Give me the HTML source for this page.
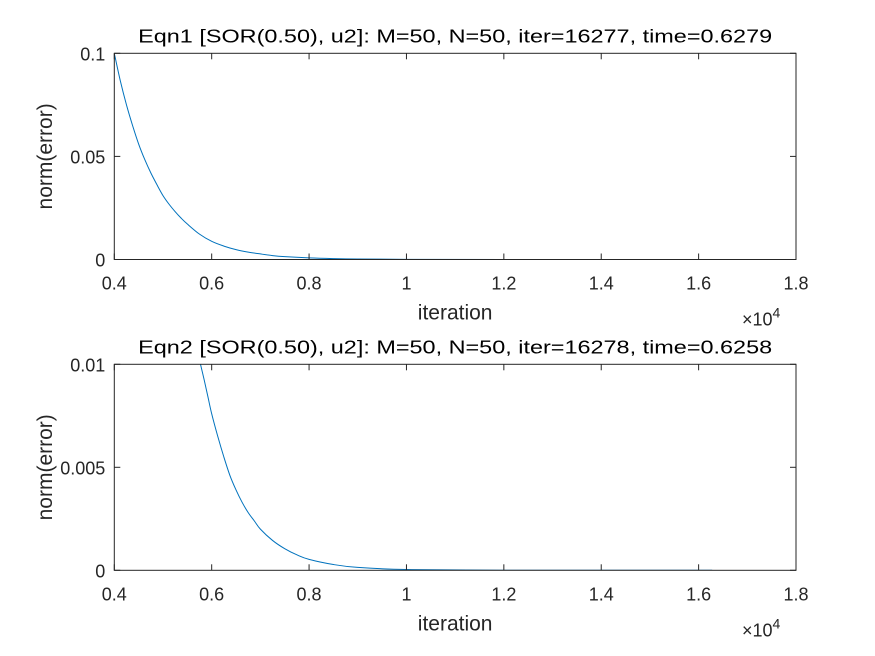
<!DOCTYPE html>
<html><head><meta charset="utf-8"><style>
html,body{margin:0;padding:0;background:#fff;}
svg{display:block;font-family:"Liberation Sans",Arial,sans-serif;}
</style></head><body>
<svg id="fig" width="875" height="656" viewBox="0 0 875 656"></svg>
<script>
const xTicks = [0.4,0.6,0.8,1,1.2,1.4,1.6,1.8];
const y1Ticks = [0,0.05,0.1];
const y1TickLabels = ["0","0.05","0.1"];
const y2Ticks = [0,0.005,0.01];
const y2TickLabels = ["0","0.005","0.01"];
const iter1 = [4000,4125,4250,4375,4500,4625,4750,4875,5000,5125,5250,5375,5500,5750,6000,6250,6500,6750,7000,7250,7500,8000,8500,9000,10000,12000,16277];
const err1 = [0.1,0.0865,0.075,0.065,0.056,0.0485,0.042,0.0363,0.031,0.0268,0.0232,0.020,0.0172,0.0123,0.0088,0.0065,0.0048,0.0036,0.0027,0.0019,0.0014,0.0008,0.00045,0.00025,0.00008,0.000008,0];
const iter2 = [5770,5850,5925,6000,6125,6250,6375,6500,6625,6750,6875,7000,7250,7500,7750,8000,8500,9000,10000,12000,16278];
const err2 = [0.01,0.0092,0.0084,0.0076,0.0065,0.0055,0.0046,0.0039,0.0033,0.0028,0.0024,0.002,0.00145,0.00105,0.00075,0.00053,0.00028,0.00014,0.00004,0.000003,0];
const titles = ["Eqn1 [SOR(0.50), u2]: M=50, N=50, iter=16277, time=0.6279","Eqn2 [SOR(0.50), u2]: M=50, N=50, iter=16278, time=0.6258"];

const NS="http://www.w3.org/2000/svg";
const svg=document.getElementById('fig');
function mk(tag,attrs,parent,text){const e=document.createElementNS(NS,tag);for(const k in attrs)e.setAttribute(k,attrs[k]);if(text!==undefined)e.textContent=text;(parent||svg).appendChild(e);return e;}

const L=114.3,R=796;
function xs(v){return L+(v-0.4)/1.4*(R-L);}

function drawAxes(idx,top,bot,ymax,yT,yTL,iters,errs){
  const g=mk('g',{});
  
  
  const ys=v=>bot-(v/ymax)*(bot-top);
  mk('rect',{x:L,y:top,width:R-L,height:bot-top,fill:'#fff'},g);
  const pts=iters.map((it,i)=>[xs(it/1e4),ys(errs[i])]);
  let d='M'+pts[0][0].toFixed(2)+','+pts[0][1].toFixed(2);
  for(let i=0;i<pts.length-1;i++){
    const p0=pts[Math.max(0,i-1)],p1=pts[i],p2=pts[i+1],p3=pts[Math.min(pts.length-1,i+2)];
    const c1x=p1[0]+(p2[0]-p0[0])/6,c1y=p1[1]+(p2[1]-p0[1])/6;
    const c2x=p2[0]-(p3[0]-p1[0])/6,c2y=p2[1]-(p3[1]-p1[1])/6;
    d+='C'+c1x.toFixed(2)+','+Math.min(c1y,bot).toFixed(2)+' '+c2x.toFixed(2)+','+Math.min(c2y,bot).toFixed(2)+' '+p2[0].toFixed(2)+','+p2[1].toFixed(2);
  }
  const cp=mk('clipPath',{id:'c'+idx},g);mk('rect',{x:L,y:top,width:R-L,height:bot-top},cp);
  const p=mk('path',{d:d,fill:'none',stroke:'#0072BD','stroke-width':1,'clip-path':'url(#c'+idx+')'},g);
  
  
  mk('rect',{x:L,y:top,width:R-L,height:bot-top,fill:'none',stroke:'#262626','stroke-width':1},g);
  xTicks.forEach(t=>{const x=xs(t);
    mk('line',{x1:x,x2:x,y1:bot,y2:bot-6,stroke:'#262626'},g);
    mk('line',{x1:x,x2:x,y1:top,y2:top+6,stroke:'#262626'},g);
    const tl=mk('text',{x:x,y:bot+30,'text-anchor':'middle','font-size':18,fill:'#262626'},g,String(t));
    
    
  });
  yT.forEach((t,i)=>{const y=ys(t);
    mk('line',{x1:L,x2:L+6,y1:y,y2:y,stroke:'#262626'},g);
    mk('line',{x1:R,x2:R-6,y1:y,y2:y,stroke:'#262626'},g);
    const tl=mk('text',{x:L-9,y:y+7,'text-anchor':'end','font-size':18,fill:'#262626'},g,yTL[i]);
    
    
  });
  const ti=mk('text',{x:(L+R)/2,y:top-11,'text-anchor':'middle','font-size':18.5,textLength:634,lengthAdjust:'spacingAndGlyphs',fill:'#000'},g,titles[idx]);
  
  
  const xl=mk('text',{x:(L+R)/2,y:bot+60,'text-anchor':'middle','font-size':21,fill:'#262626'},g,'iteration');
  
  
  const cy=(top+bot)/2;
  const yl=mk('text',{x:0,y:0,transform:'translate(52,'+cy+') rotate(-90)','text-anchor':'middle','font-size':21,fill:'#262626'},g,'norm(error)');
  
  
  const ex=mk('text',{x:742,y:bot+66,'font-size':18,fill:'#262626'},g);
  
  
  ex.innerHTML='<tspan>\u00d710</tspan><tspan dy="-8" font-size="14">4</tspan>';
}
drawAxes(0,53.3,259.5,0.1,y1Ticks,y1TickLabels,iter1,err1);
drawAxes(1,364.3,570.3,0.01,y2Ticks,y2TickLabels,iter2,err2);
</script>
</body></html>
